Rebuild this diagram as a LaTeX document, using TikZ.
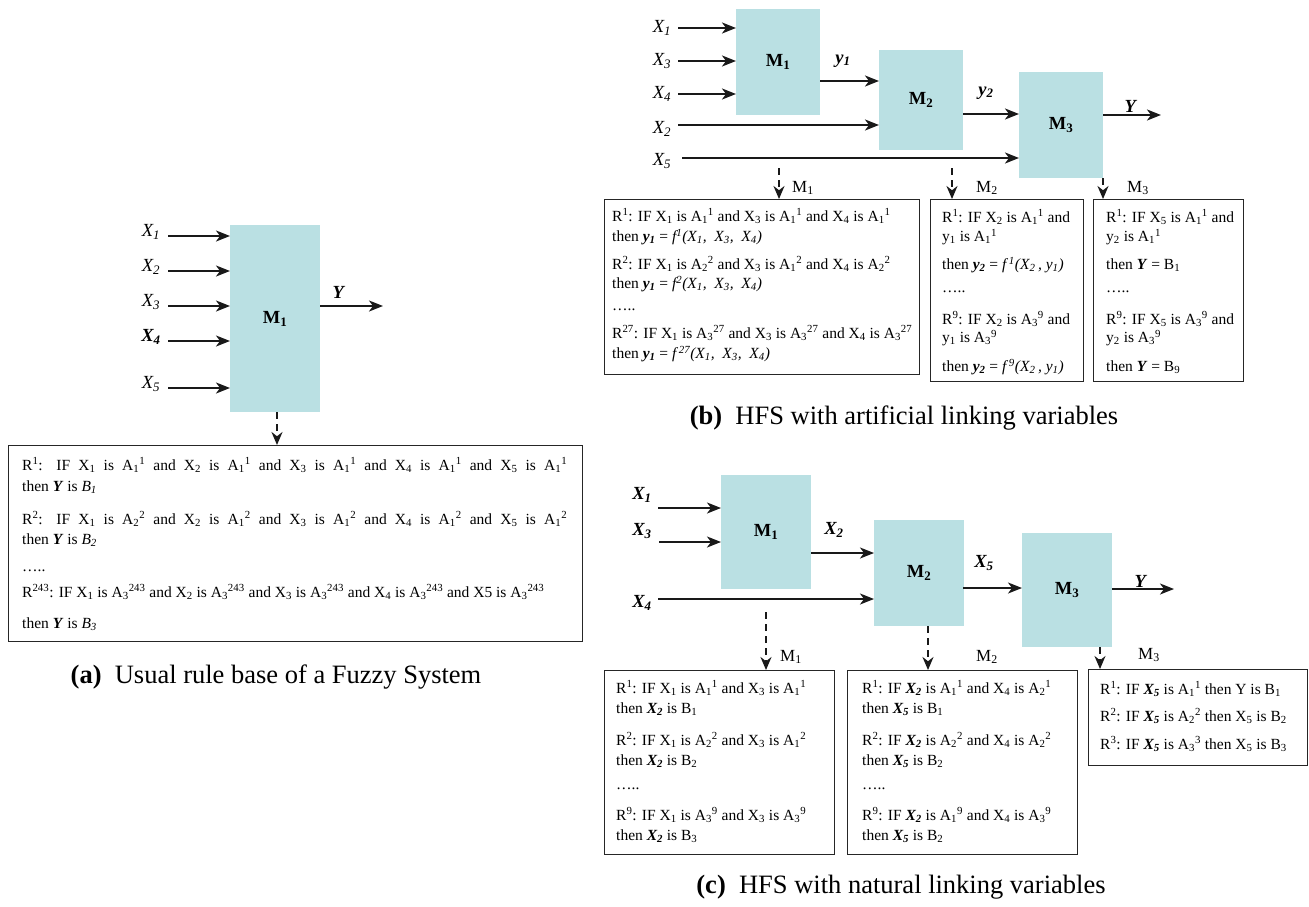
\documentclass[tikz,border=0pt]{standalone}
\usepackage{fontspec}
\setmainfont{Liberation Serif}
\usetikzlibrary{arrows.meta}
\definecolor{boxcyan}{RGB}{186,224,227}
\newcommand{\rulefont}{\fontsize{15.5}{18}\selectfont}
\newcommand{\lblfont}{\fontsize{18.5}{21}\selectfont}
\newcommand{\tagfont}{\fontsize{17}{19}\selectfont}
\newcommand{\capfont}{\fontsize{26.5}{30}\selectfont}
\newcommand{\Xs}[1]{X\textsubscript{#1}}
\newcommand{\Asp}[2]{A\textsubscript{#1}\textsuperscript{#2}}
\newcommand{\bi}[1]{\textbf{\textit{#1}}}
\newcommand{\dts}{\dots..}
\tikzset{
  block/.style={fill=boxcyan, draw=none, inner sep=0pt, anchor=north west, font=\lblfont},
  rulebox/.style={draw=black!85, line width=1.3pt, inner sep=0pt, anchor=north west},
  arr/.style={line width=1.8pt, draw=black!90, -{Stealth[length=14pt,width=11pt,inset=4pt]}},
  darr/.style={line width=1.8pt, draw=black!90, dash pattern=on 7pt off 5pt, -{Stealth[length=13pt,width=11pt]}},
  ruletext/.style={anchor=west, inner sep=0pt, font=\rulefont},
  var/.style={inner sep=0pt, font=\lblfont},
  mtag/.style={inner sep=0pt, anchor=west, font=\tagfont},
  captext/.style={inner sep=0pt, font=\capfont}
}
\begin{document}
\begin{tikzpicture}[x=1pt,y=-1pt]
\useasboundingbox (0,0) rectangle (1309,906);

% ---------------- (a) single fuzzy system ----------------
\node[block, minimum width=90pt, minimum height=187pt] (aM1) at (230,225) {\textbf{M\textsubscript{1}}};
\foreach \n/\yy/\lab in {1/236/\textit{\Xs1}, 2/271/\textit{\Xs2}, 3/306/\textit{\Xs3}, 4/341/\bi{\Xs4}, 5/388/\textit{\Xs5}}{
  \node[var] (aL\n) at (151,\yy-4) {\lab};
  \coordinate (aS\n) at (168,\yy);
  \draw[arr] (aS\n) -- (aS\n -| aM1.west);
}
\coordinate (aOut) at (383,306);
\draw[arr] (aOut -| aM1.east) -- (aOut);
\node[var] (aY) at (339,292) {\bi{Y}};

\node[rulebox, minimum width=574pt, minimum height=196pt] (aR) at (8,445) {};
\coordinate (aD) at (277,412);
\draw[darr] (aD) -- (aD |- aR.north);

\node[ruletext] (ar1) at (22,465) {\makebox[545pt][s]{R\textsuperscript{1}: IF \Xs1 is \Asp11 and \Xs2 is \Asp11 and \Xs3 is \Asp11 and \Xs4 is \Asp11 and \Xs5 is \Asp11}};
\node[ruletext] (ar2) at (22,487) {then \bi{Y} is \textit{B\textsubscript{1}}};
\node[ruletext] (ar3) at (22,519) {\makebox[545pt][s]{R\textsuperscript{2}: IF \Xs1 is \Asp22 and \Xs2 is \Asp12 and \Xs3 is \Asp12 and \Xs4 is \Asp12 and \Xs5 is \Asp12}};
\node[ruletext] (ar4) at (22,540) {then \bi{Y} is \textit{B\textsubscript{2}}};
\node[ruletext] (ar5) at (22,571) {\dts};
\node[ruletext] (ar6) at (22,592) {R\textsuperscript{243}: IF \Xs1 is \Asp3{243} and \Xs2 is \Asp3{243} and \Xs3 is \Asp3{243} and \Xs4 is \Asp3{243} and X5 is \Asp3{243}};
\node[ruletext] (ar7) at (22,624) {then \bi{Y} is \textit{B\textsubscript{3}}};

\node[captext] (acap) at (276,677) {\textbf{(a)}\ \ Usual rule base of a Fuzzy System};

% ---------------- (b) artificial linking variables ----------------
\node[block, minimum width=84pt, minimum height=106pt] (bM1) at (736,9) {\textbf{M\textsubscript{1}}};
\node[block, minimum width=84pt, minimum height=100pt] (bM2) at (879,50) {\textbf{M\textsubscript{2}}};
\node[block, minimum width=84pt, minimum height=106pt] (bM3) at (1019,72) {\textbf{M\textsubscript{3}}};

\foreach \n/\yy/\k in {1/28/1, 3/61/3, 4/94/4}{
  \node[var] (bL\n) at (662,\yy) {\textit{\Xs\k}};
  \coordinate (bS\n) at (678,\yy);
  \draw[arr] (bS\n) -- (bS\n -| bM1.west);
}
\node[var] (bL2) at (662,129) {\textit{\Xs2}};
\coordinate (bS2) at (678,125);
\draw[arr] (bS2) -- (bS2 -| bM2.west);
\node[var] (bL5) at (662,161) {\textit{\Xs5}};
\coordinate (bS5) at (682,158);
\draw[arr] (bS5) -- (bS5 -| bM3.west);

\coordinate (bY1) at (820,81);
\draw[arr] (bY1) -- (bY1 -| bM2.west);
\node[var] (bLy1) at (843,61) {\bi{y\textsubscript{1}}};
\coordinate (bY2) at (963,114);
\draw[arr] (bY2) -- (bY2 -| bM3.west);
\node[var] (bLy2) at (986,93) {\bi{y\textsubscript{2}}};
\coordinate (bOut) at (1161,115);
\draw[arr] (bOut -| bM3.east) -- (bOut);
\node[var] (bY) at (1131,106) {\bi{Y}};

\node[rulebox, minimum width=315pt, minimum height=175pt] (bR1) at (604,199) {};
\node[rulebox, minimum width=153pt, minimum height=182pt] (bR2) at (930,199) {};
\node[rulebox, minimum width=150pt, minimum height=182pt] (bR3) at (1093,199) {};

\coordinate (bD1) at (779,168);
\draw[darr] (bD1) -- (bD1 |- bR1.north);
\coordinate (bD2) at (952,168);
\draw[darr] (bD2) -- (bD2 |- bR2.north);
\coordinate (bD3) at (1103,178);
\draw[darr] (bD3) -- (bD3 |- bR3.north);
\node[mtag] (bT1) at (792,188) {M\textsubscript{1}};
\node[mtag] (bT2) at (976,188) {M\textsubscript{2}};
\node[mtag] (bT3) at (1127,188) {M\textsubscript{3}};

\node[ruletext] (b1r1) at (612,216) {R\textsuperscript{1}: IF \Xs1 is \Asp11 and \Xs3 is \Asp11 and \Xs4 is \Asp11};
\node[ruletext] (b1r2) at (612,237) {then \bi{y\textsubscript{1}} = \textit{f\textsuperscript{1}(X\textsubscript{1},\ \ X\textsubscript{3},\ \ X\textsubscript{4})}};
\node[ruletext] (b1r3) at (612,264) {R\textsuperscript{2}: IF \Xs1 is \Asp22 and \Xs3 is \Asp12 and \Xs4 is \Asp22};
\node[ruletext] (b1r4) at (612,284) {then \bi{y\textsubscript{1}} = \textit{f\textsuperscript{2}(X\textsubscript{1},\ \ X\textsubscript{3},\ \ X\textsubscript{4})}};
\node[ruletext] (b1r5) at (612,310) {\dts};
\node[ruletext] (b1r6) at (612,333) {R\textsuperscript{27}: IF \Xs1 is \Asp3{27} and \Xs3 is \Asp3{27} and \Xs4 is \Asp3{27}};
\node[ruletext] (b1r7) at (612,354) {then \bi{y\textsubscript{1}} = \textit{f\,\textsuperscript{27}(X\textsubscript{1},\ \ X\textsubscript{3},\ \ X\textsubscript{4})}};

\node[ruletext] (b2r1) at (942,217) {R\textsuperscript{1}: IF \Xs2 is \Asp11 and};
\node[ruletext] (b2r2) at (942,237) {y\textsubscript{1} is \Asp11};
\node[ruletext] (b2r3) at (942,265) {then \bi{y\textsubscript{2}} = \textit{f\,\textsuperscript{1}(X\textsubscript{2}\,, y\textsubscript{1})}};
\node[ruletext] (b2r4) at (942,292) {\dts};
\node[ruletext] (b2r5) at (942,319) {R\textsuperscript{9}: IF \Xs2 is \Asp39 and};
\node[ruletext] (b2r6) at (942,338) {y\textsubscript{1} is \Asp39};
\node[ruletext] (b2r7) at (942,367) {then \bi{y\textsubscript{2}} = \textit{f\,\textsuperscript{9}(X\textsubscript{2}\,, y\textsubscript{1})}};

\node[ruletext] (b3r1) at (1106,217) {R\textsuperscript{1}: IF \Xs5 is \Asp11 and};
\node[ruletext] (b3r2) at (1106,237) {y\textsubscript{2} is \Asp11};
\node[ruletext] (b3r3) at (1106,265) {then \bi{Y} = B\textsubscript{1}};
\node[ruletext] (b3r4) at (1106,292) {\dts};
\node[ruletext] (b3r5) at (1106,319) {R\textsuperscript{9}: IF \Xs5 is \Asp39 and};
\node[ruletext] (b3r6) at (1106,338) {y\textsubscript{2} is \Asp39};
\node[ruletext] (b3r7) at (1106,367) {then \bi{Y} = B\textsubscript{9}};

\node[captext] (bcap) at (904,418) {\textbf{(b)}\ \ HFS with artificial linking variables};

% ---------------- (c) natural linking variables ----------------
\node[block, minimum width=90pt, minimum height=114pt] (cM1) at (721,475) {\textbf{M\textsubscript{1}}};
\node[block, minimum width=90pt, minimum height=106pt] (cM2) at (874,520) {\textbf{M\textsubscript{2}}};
\node[block, minimum width=90pt, minimum height=114pt] (cM3) at (1022,533) {\textbf{M\textsubscript{3}}};

\node[var] (cL1) at (642,495) {\bi{\Xs1}};
\coordinate (cS1) at (658,508);
\draw[arr] (cS1) -- (cS1 -| cM1.west);
\node[var] (cL3) at (642,531) {\bi{\Xs3}};
\coordinate (cS3) at (659,542);
\draw[arr] (cS3) -- (cS3 -| cM1.west);
\node[var] (cL4) at (642,603) {\bi{\Xs4}};
\coordinate (cS4) at (658,599);
\draw[arr] (cS4) -- (cS4 -| cM2.west);

\coordinate (cX2) at (811,553);
\draw[arr] (cX2) -- (cX2 -| cM2.west);
\node[var] (cLx2) at (834,530) {\bi{\Xs2}};
\coordinate (cX5) at (963,588);
\draw[arr] (cX5) -- (cX5 -| cM3.west);
\node[var] (cLx5) at (984,563) {\bi{\Xs5}};
\coordinate (cOut) at (1174,589);
\draw[arr] (cOut -| cM3.east) -- (cOut);
\node[var] (cY) at (1141,581) {\bi{Y}};

\node[rulebox, minimum width=230pt, minimum height=184pt] (cR1) at (604,670) {};
\node[rulebox, minimum width=230pt, minimum height=184pt] (cR2) at (847,670) {};
\node[rulebox, minimum width=219pt, minimum height=96pt] (cR3) at (1088,669) {};

\coordinate (cD1) at (766,612);
\draw[darr] (cD1) -- (cD1 |- cR1.north);
\coordinate (cD2) at (928,626);
\draw[darr] (cD2) -- (cD2 |- cR2.north);
\coordinate (cD3) at (1100,647);
\draw[darr] (cD3) -- (cD3 |- cR3.north);
\node[mtag] (cT1) at (780,657) {M\textsubscript{1}};
\node[mtag] (cT2) at (976,657) {M\textsubscript{2}};
\node[mtag] (cT3) at (1138,655) {M\textsubscript{3}};

\node[ruletext] (c1r1) at (616,688) {R\textsuperscript{1}: IF \Xs1 is \Asp11 and \Xs3 is \Asp11};
\node[ruletext] (c1r2) at (616,709) {then \bi{\Xs2} is B\textsubscript{1}};
\node[ruletext] (c1r3) at (616,740) {R\textsuperscript{2}: IF \Xs1 is \Asp22 and \Xs3 is \Asp12};
\node[ruletext] (c1r4) at (616,761) {then \bi{\Xs2} is B\textsubscript{2}};
\node[ruletext] (c1r5) at (616,789) {\dts};
\node[ruletext] (c1r6) at (616,815) {R\textsuperscript{9}: IF \Xs1 is \Asp39 and \Xs3 is \Asp39};
\node[ruletext] (c1r7) at (616,836) {then \bi{\Xs2} is B\textsubscript{3}};

\node[ruletext] (c2r1) at (862,688) {R\textsuperscript{1}: IF \bi{\Xs2} is \Asp11 and \Xs4 is \Asp21};
\node[ruletext] (c2r2) at (862,709) {then \bi{\Xs5} is B\textsubscript{1}};
\node[ruletext] (c2r3) at (862,740) {R\textsuperscript{2}: IF \bi{\Xs2} is \Asp22 and \Xs4 is \Asp22};
\node[ruletext] (c2r4) at (862,761) {then \bi{\Xs5} is B\textsubscript{2}};
\node[ruletext] (c2r5) at (862,789) {\dts};
\node[ruletext] (c2r6) at (862,815) {R\textsuperscript{9}: IF \bi{\Xs2} is \Asp19 and \Xs4 is \Asp39};
\node[ruletext] (c2r7) at (862,836) {then \bi{\Xs5} is B\textsubscript{2}};

\node[ruletext] (c3r1) at (1100,689) {R\textsuperscript{1}: IF \bi{\Xs5} is \Asp11 then Y is B\textsubscript{1}};
\node[ruletext] (c3r2) at (1100,716) {R\textsuperscript{2}: IF \bi{\Xs5} is \Asp22 then \Xs5 is B\textsubscript{2}};
\node[ruletext] (c3r3) at (1100,744) {R\textsuperscript{3}: IF \bi{\Xs5} is \Asp33 then \Xs5 is B\textsubscript{3}};

\node[captext] (ccap) at (901,887) {\textbf{(c)}\ \ HFS with natural linking variables};
\end{tikzpicture}
\end{document}
